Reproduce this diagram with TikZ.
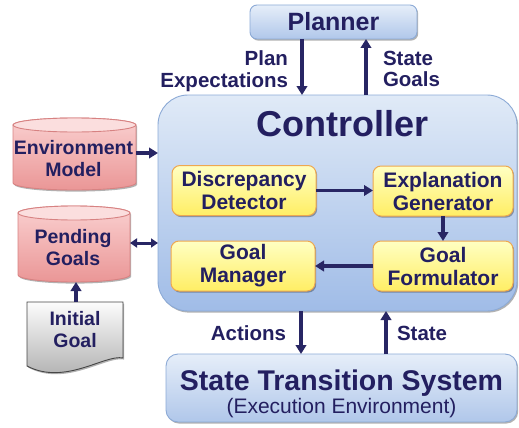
\documentclass[tikz,border=0pt]{standalone}
\usepackage{fontspec}
\setmainfont{Liberation Sans}
\usetikzlibrary{arrows.meta,shadows}
\definecolor{txt}{RGB}{35,31,96}
\definecolor{arrc}{RGB}{40,38,100}
\definecolor{blutop}{RGB}{230,238,249}
\definecolor{blubot}{RGB}{176,199,234}
\definecolor{blubd}{RGB}{140,170,214}
\definecolor{ctop}{RGB}{224,234,247}
\definecolor{cbot}{RGB}{160,188,231}
\definecolor{yeltop}{RGB}{255,255,195}
\definecolor{yelbot}{RGB}{255,238,100}
\definecolor{yelbd}{RGB}{238,168,80}
\definecolor{redtop}{RGB}{250,208,208}
\definecolor{redbot}{RGB}{234,150,150}
\definecolor{redcap}{RGB}{251,222,222}
\definecolor{redbd}{RGB}{215,130,130}
\definecolor{grytop}{RGB}{252,252,252}
\definecolor{grybot}{RGB}{168,168,168}
\definecolor{grybd}{RGB}{70,70,70}
\newcommand{\boxfont}{\fontsize{21}{23}\selectfont\bfseries}
\newcommand{\lblfont}{\fontsize{20.5}{21.5}\selectfont\bfseries}
\newcommand{\cylfont}{\fontsize{19.5}{22}\selectfont\bfseries}
\newcommand{\mycyl}[5]{%
  \path[cylbody] (#1-#2,#3+#5) -- (#1-#2,#4-#5)
     arc[start angle=180,end angle=0,x radius=#2,y radius=#5]
     -- (#1+#2,#3+#5)
     arc[start angle=0,end angle=-180,x radius=#2,y radius=#5] -- cycle;
  \path[cyltop] (#1,#3+#5) ellipse[x radius=#2,y radius=#5];}
\begin{document}
\begin{tikzpicture}[x=1pt,y=-1pt,
  every node/.style={text=txt, inner sep=0pt, outer sep=0pt},
  shad/.style={drop shadow={shadow xshift=1.2pt, shadow yshift=-1.6pt, opacity=0.3, fill=black}},
  bluebox/.style={draw=blubd, line width=0.9pt, top color=blutop, bottom color=blubot, shad},
  yelbox/.style={draw=yelbd, line width=1pt, rounded corners=8pt, top color=yeltop,
     bottom color=yelbot, minimum height=50pt, font=\boxfont, align=center, shad},
  cylbody/.style={draw=redbd, line width=0.9pt, top color=redtop, bottom color=redbot, shad},
  cyltop/.style={draw=redbd, line width=0.9pt, fill=redcap},
  docshape/.style={draw=grybd, line width=0.9pt, top color=grytop, bottom color=grybot, shad},
  arr/.style={draw=arrc, line width=3.2pt, -{Triangle[length=9pt,width=10.5pt]}},
  darr/.style={draw=arrc, line width=3pt, {Triangle[length=7pt,width=9pt]}-{Triangle[length=7pt,width=9pt]}},
  lbl/.style={font=\lblfont, align=#1},
]
\useasboundingbox (0,0) rectangle (519,428);

% Planner
\node[bluebox, rounded corners=7pt, minimum width=167pt, minimum height=34pt,
      font=\fontsize{25}{28}\selectfont\bfseries] (planner) at (333.5,22) {Planner};

% Controller
\node[draw=blubd, line width=0.9pt, top color=ctop, bottom color=cbot, shad,
      rounded corners=30pt, minimum width=359pt, minimum height=216pt] (ctrl) at (337.5,203) {};
\node[font=\fontsize{36}{40}\selectfont\bfseries] (ctrltitle) at (342.5,123.5) {Controller};

% Inner boxes
\node[yelbox, minimum width=144pt] (dd) at (244,190.5) {Discrepancy\\Detector};
\node[yelbox, minimum width=140pt] (eg) at (443,191) {Explanation\\Generator};
\node[yelbox, minimum width=144pt] (gm) at (243,266) {Goal\\Manager};
\node[yelbox, minimum width=140pt] (gf) at (443,266) {Goal\\Formulator};

% State Transition System
\node[bluebox, rounded corners=12pt, minimum width=351pt, minimum height=68pt] (sts) at (341.5,388) {};
\node[align=center, font=\fontsize{28.5}{23}\selectfont\bfseries] (ststxt) at (341.5,393.5)
  {State Transition System\\{\fontsize{21}{23}\selectfont\mdseries (Execution Environment)}};

% Cylinders
\mycyl{74.5}{61.5}{118}{190}{7}
\node[font=\cylfont, align=center] (env) at (73.5,159) {Environment\\Model};
\mycyl{74}{56}{206}{282}{7}
\node[font=\cylfont, align=center] (pend) at (73,248) {Pending\\Goals};

% Initial goal document
\path[docshape] (27,302) -- (123,302) -- (123,358) .. controls (105,354) and (65,386) .. (27,366) -- cycle;
\node[font=\cylfont, align=center] (init) at (75,330) {Initial\\Goal};

% coordinates for connectors
\coordinate (xa) at (302,0);
\coordinate (xb) at (366,0);
\coordinate (xc) at (301,0);
\coordinate (xd) at (386,0);
\coordinate (ye) at (0,153);
\coordinate (yp) at (0,243);
\coordinate (envr) at (136,153);
\coordinate (pendr) at (130,243);
\coordinate (pendb) at (76,282);
\coordinate (initt) at (76,302);

% connectors
\draw[arr] (planner.south -| xa) -- (ctrl.north -| xa);
\draw[arr] (ctrl.north -| xb) -- (planner.south -| xb);
\draw[arr] (ctrl.south -| xc) -- (sts.north -| xc);
\draw[arr] (sts.north -| xd) -- (ctrl.south -| xd);
\draw[arr] (envr) -- (ctrl.west |- ye);
\draw[darr] (pendr) -- (ctrl.west |- yp);
\draw[arr] (initt) -- (pendb);
\draw[arr] (dd.east) -- (eg.west |- dd.east);
\draw[arr] (eg.south) -- (gf.north);
\draw[arr] (gf.west) -- (gm.east);

% labels
\node[lbl=right, anchor=north east] (lpe) at (288,51) {Plan\\Expectations};
\node[lbl=left, anchor=north west] (lsg) at (383,51) {State\\Goals};
\node[lbl=right, anchor=east] (lac) at (286,333) {Actions};
\node[lbl=left, anchor=west] (lst) at (397,333) {State};
\end{tikzpicture}
\end{document}
